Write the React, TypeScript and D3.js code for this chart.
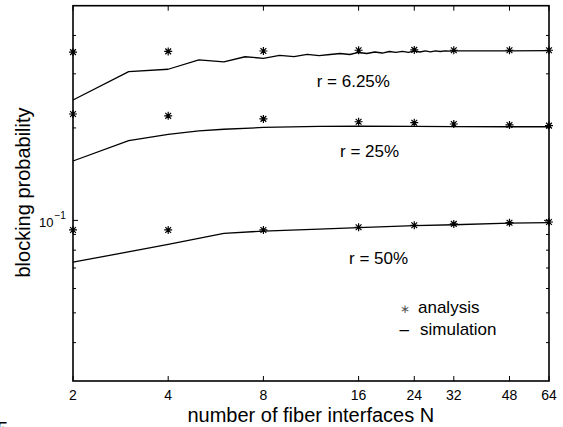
import React from 'react';
import * as d3 from 'd3';

// x ticks (number of fiber interfaces N)
const xTicks = [2, 4, 8, 16, 24, 32, 48, 64];
const yMinorTicks = [0.04, 0.05, 0.06, 0.07, 0.08, 0.09, 0.2, 0.3, 0.4];
const yMajorTicks = [0.1];

// analysis (stars)
const analysisN = [2, 4, 8, 16, 24, 32, 48, 64];
const analysis625 = [0.353, 0.355, 0.356, 0.358, 0.359, 0.358, 0.358, 0.358];
const analysis25 = [0.222, 0.219, 0.214, 0.2095, 0.208, 0.206, 0.2045, 0.2035];
const analysis50 = [0.0931, 0.0931, 0.0931, 0.095, 0.0964, 0.0974, 0.0983, 0.0988];

// simulation (lines)
const sim625N = [2, 3, 4, 5, 6, 7, 8, 9, 10, 11, 12, 13, 14, 15, 16, 17, 18, 19, 20, 21, 22, 23, 24, 25, 26, 27, 28, 29, 30, 31, 32, 48, 64];
const sim625 = [0.2466, 0.305, 0.3105, 0.333, 0.328, 0.341, 0.3371, 0.3448, 0.3411, 0.3474, 0.3437, 0.3468, 0.3494, 0.3468, 0.3521, 0.3494, 0.3534, 0.3507, 0.3547, 0.3521, 0.3552, 0.3526, 0.3561, 0.3534, 0.3561, 0.3539, 0.3566, 0.3547, 0.3566, 0.3555, 0.3561, 0.3561, 0.3568];
const sim25N = [2, 3, 4, 5, 6, 8, 12, 16, 24, 32, 48, 64];
const sim25 = [0.1561, 0.1818, 0.1907, 0.1955, 0.198, 0.2007, 0.2022, 0.2025, 0.2022, 0.2019, 0.2018, 0.2018];
const sim50N = [2, 4, 6, 8, 12, 16, 24, 32, 48, 64];
const sim50 = [0.0731, 0.0835, 0.0907, 0.0923, 0.0936, 0.0947, 0.0961, 0.0968, 0.0979, 0.0983];

const seriesLabels = ['r = 6.25%', 'r = 25%', 'r = 50%'];

const W = 563;
const H = 427;
const font = '"Liberation Sans", Arial, Helvetica, sans-serif';

export default function App() {
  const x = d3.scaleLog().base(2).domain([2, 64]).range([73, 549]);
  const y = d3.scaleLog().domain([0.03, 0.5]).range([381, 5.7]);
  const [x0, x1] = x.range();
  const [y0, y1] = y.range();

  const line = d3.line<[number, number]>().x(d => x(d[0])).y(d => y(d[1]));
  const sims: [number[], number[]][] = [[sim625N, sim625], [sim25N, sim25], [sim50N, sim50]];
  const analyses = [analysis625, analysis25, analysis50];

  const star = (cx: number, cy: number, r: number) => {
    const d = r * 0.72;
    return `M${cx - r},${cy}H${cx + r}M${cx},${cy - r}V${cy + r}M${cx - d},${cy - d}L${cx + d},${cy + d}M${cx - d},${cy + d}L${cx + d},${cy - d}`;
  };

  const labelPos = [[316.7, 87.3], [340, 156.5], [349, 263.5]];

  return (
    <div style={{ position: 'fixed', left: 0, top: 0 }}>
      <svg width={W} height={H} style={{ display: 'block', background: '#fff' }} fontFamily={font}>
        {/* series lines */}
        {sims.map(([ns, vs], i) => (
          <path key={'s' + i} d={line(ns.map((n, j) => [n, vs[j]] as [number, number])) || ''}
            fill="none" stroke="#000" strokeWidth={1.3} strokeLinejoin="round" />
        ))}
        {/* analysis stars */}
        {analyses.map((vs, i) => (
          <g key={'a' + i}>
            {analysisN.map((n, j) => (
              <path key={j} d={star(x(n), y(vs[j]), 4)} stroke="#000" strokeWidth={1.2} fill="none" />
            ))}
          </g>
        ))}
        {/* ticks */}
        {xTicks.map(t => (
          <g key={'xt' + t}>
            <line x1={x(t)} x2={x(t)} y1={y0} y2={y0 - 5} stroke="#000" strokeWidth={1} />
            <line x1={x(t)} x2={x(t)} y1={y1} y2={y1 + 5} stroke="#000" strokeWidth={1} />
            <text x={x(t)} y={400} fontSize={14} textAnchor="middle">{t}</text>
          </g>
        ))}
        {yMinorTicks.map(t => (
          <g key={'ym' + t}>
            <line x1={x0} x2={x0 + 3} y1={y(t)} y2={y(t)} stroke="#000" strokeWidth={1} />
            <line x1={x1} x2={x1 - 3} y1={y(t)} y2={y(t)} stroke="#000" strokeWidth={1} />
          </g>
        ))}
        {yMajorTicks.map(t => (
          <g key={'yM' + t}>
            <line x1={x0} x2={x0 + 5} y1={y(t)} y2={y(t)} stroke="#000" strokeWidth={1} />
            <line x1={x1} x2={x1 - 5} y1={y(t)} y2={y(t)} stroke="#000" strokeWidth={1} />
            <text x={53.5} y={y(t) + 6.6} fontSize={13} textAnchor="end">10</text>
            <text x={54.5} y={y(t) - 1.5} fontSize={10}>−1</text>
          </g>
        ))}
        {/* axes box */}
        <rect x={x0} y={y1} width={x1 - x0} height={y0 - y1} fill="none" stroke="#000" strokeWidth={1.6} />
        {/* series labels */}
        {seriesLabels.map((s, i) => (
          <text key={s} x={labelPos[i][0]} y={labelPos[i][1]} fontSize={17}>{s}</text>
        ))}
        {/* legend */}
        <text x={399.5} y={312.5} fontSize={12} fill="#555">∗</text>
        <text x={418} y={313.3} fontSize={17}>analysis</text>
        <text x={399.5} y={335} fontSize={17}>–</text>
        <text x={420} y={335} fontSize={17}>simulation</text>
        {/* axis labels */}
        <text x={310.8} y={421.7} fontSize={20} textAnchor="middle">number of fiber interfaces N</text>
        <text transform="translate(30,192.5) rotate(-90)" fontSize={20} textAnchor="middle">blocking probability</text>
        <text x={-3} y={436} fontSize={20}>5</text>
      </svg>
    </div>
  );
}
